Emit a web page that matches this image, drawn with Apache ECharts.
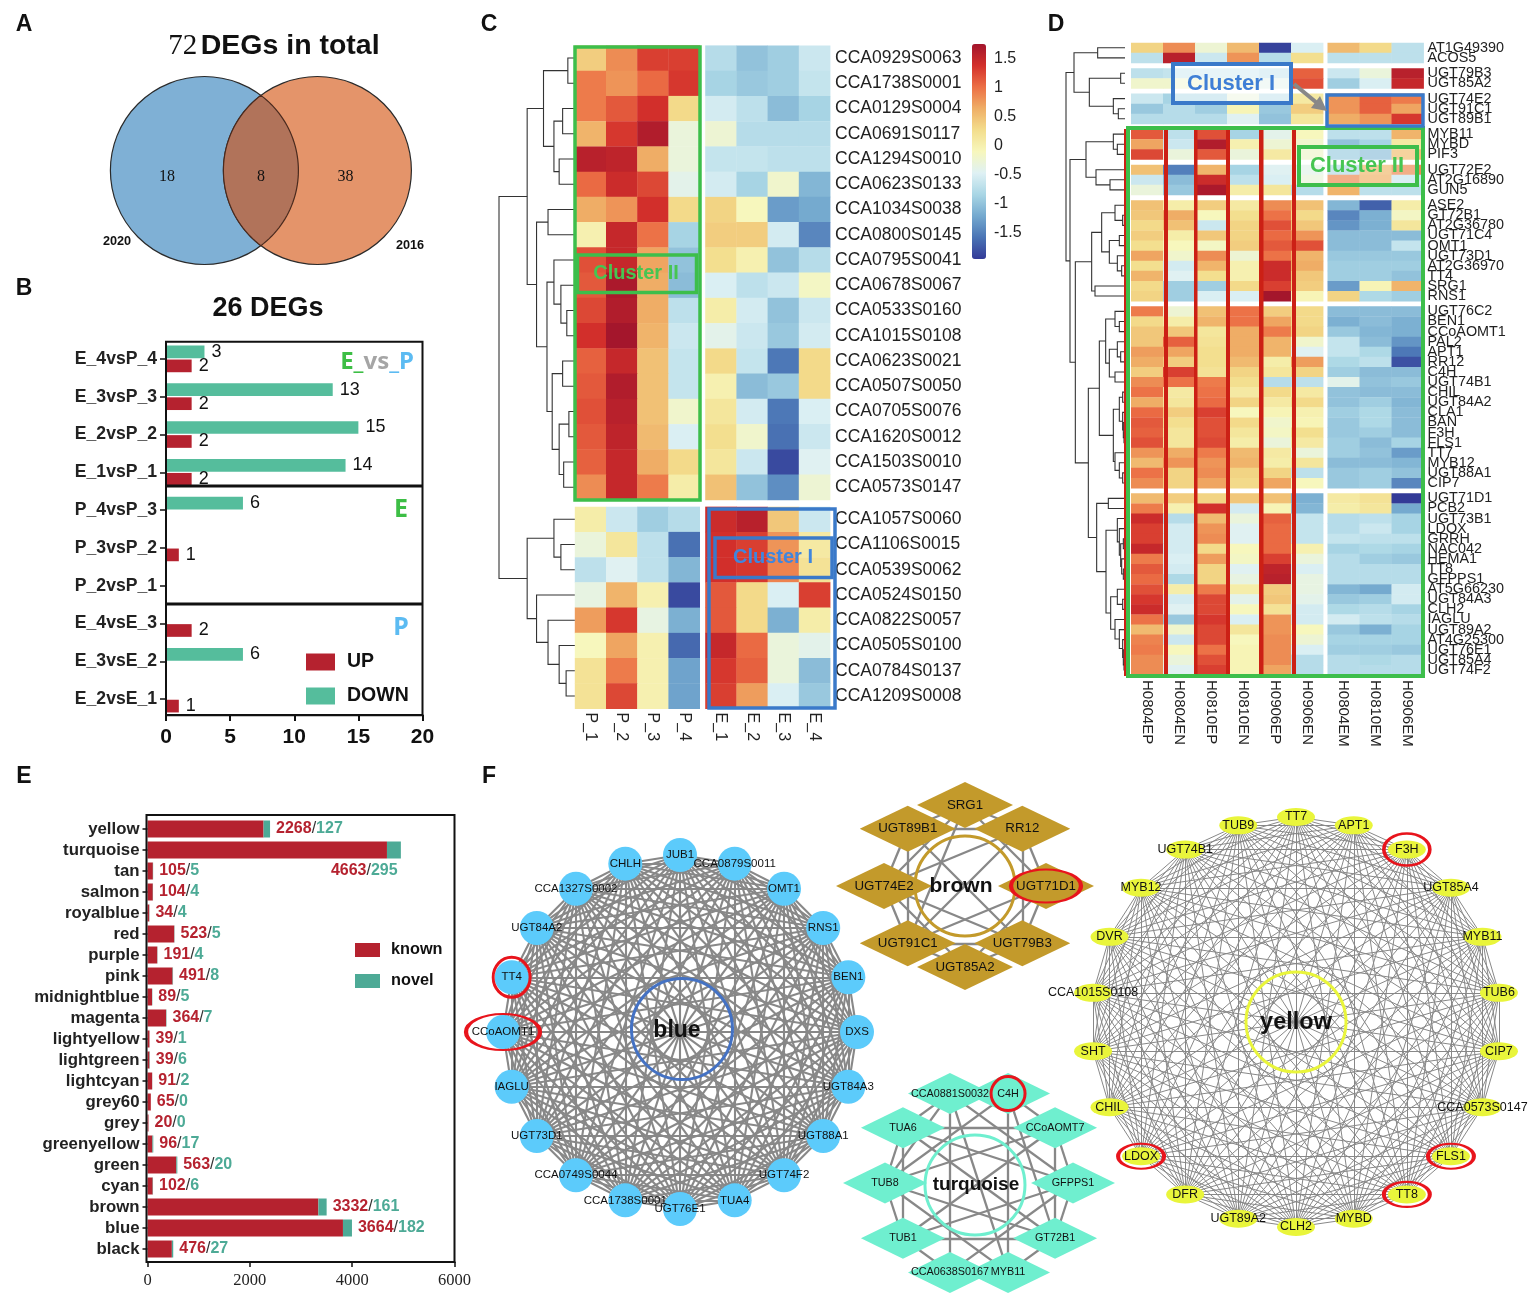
<!DOCTYPE html>
<html><head><meta charset="utf-8">
<script src="https://cdn.jsdelivr.net/npm/echarts@6/dist/echarts.min.js"></script>
<style>html,body{margin:0;padding:0;background:#fff}#c{width:1535px;height:1299px}</style></head>
<body><div id="c"></div>
<script>
// ---------- DATA ----------
const vennCounts = [18, 8, 38];
const vennYears = ['2020', '2016'];

const degCats = ['E_4vsP_4','E_3vsP_3','E_2vsP_2','E_1vsP_1','P_4vsP_3','P_3vsP_2','P_2vsP_1','E_4vsE_3','E_3vsE_2','E_2vsE_1'];
const degDown = [3,13,15,14,6,0,0,0,6,0];
const degUp   = [2,2,2,2,0,1,0,2,0,1];

const modCats = ['yellow','turquoise','tan','salmon','royalblue','red','purple','pink','midnightblue','magenta','lightyellow','lightgreen','lightcyan','grey60','grey','greenyellow','green','cyan','brown','blue','black'];
const modKnown = [2268,4663,105,104,34,523,191,491,89,364,39,39,91,65,20,96,563,102,3332,3664,476];
const modNovel = [127,295,5,4,4,5,4,8,5,7,1,6,2,0,0,17,20,6,161,182,27];
// bar lengths as drawn in the picture (a few differ from the printed numbers)
const modKnownBar = [2268,4680,105,104,34,523,191,491,89,364,39,39,91,65,20,96,563,102,3340,3820,476];
const modNovelBar = [127,272,5,4,4,5,4,8,5,7,1,6,2,0,0,17,20,6,161,176,27];

const cCols = ['P_1','P_2','P_3','P_4','E_1','E_2','E_3','E_4'];
const cRows = ['CCA0929S0063','CCA1738S0001','CCA0129S0004','CCA0691S0117','CCA1294S0010','CCA0623S0133','CCA1034S0038','CCA0800S0145','CCA0795S0041','CCA0678S0067','CCA0533S0160','CCA1015S0108','CCA0623S0021','CCA0507S0050','CCA0705S0076','CCA1620S0012','CCA1503S0010','CCA0573S0147','CCA1057S0060','CCA1106S0015','CCA0539S0062','CCA0524S0150','CCA0822S0057','CCA0505S0100','CCA0784S0137','CCA1209S0008'];
const cVals = [
[0.4,0.85,1.3,1.3,-0.75,-1.0,-0.9,-0.6],
[0.95,0.8,1.05,1.35,-0.85,-0.95,-0.9,-0.65],
[0.95,1.15,1.4,0.3,-0.55,-0.7,-1.05,-0.85],
[0.6,1.35,1.65,-0.3,-0.25,-0.75,-0.75,-0.75],
[1.6,1.55,0.65,-0.3,-0.65,-0.65,-0.7,-0.7],
[1.05,1.45,1.25,-0.4,-0.55,-0.85,-0.2,-1.1],
[0.65,0.8,1.4,0.3,0.35,-0.1,-1.3,-1.2],
[0.0,1.5,1.0,-0.85,0.4,0.4,-0.55,-1.45],
[1.2,1.5,0.7,-1.0,0.25,0.0,-1.0,-0.75],
[1.15,1.7,0.65,-1.05,-0.5,-0.7,-0.6,-0.15],
[1.25,1.65,0.65,-0.7,0.05,-0.55,-1.0,-0.6],
[1.4,1.75,0.6,-0.6,-0.4,-0.6,-0.95,-0.55],
[1.1,1.5,0.5,-0.65,0.3,-0.65,-1.55,0.3],
[1.15,1.65,0.5,-0.65,0.0,-1.05,-0.95,0.3],
[1.2,1.6,0.5,-0.2,0.15,-0.55,-1.55,-0.5],
[1.15,1.55,0.55,-0.5,0.25,-0.2,-1.6,-0.6],
[1.1,1.5,0.65,0.3,0.15,-0.6,-1.85,-0.45],
[0.85,1.5,0.95,0.05,0.5,-1.0,-1.4,-0.25],
[0.05,-0.6,-0.9,-0.75,1.45,1.6,0.45,-0.6],
[-0.3,0.15,-0.7,-1.6,1.4,1.3,0.8,0.1],
[-0.7,-0.45,-0.7,-1.1,1.4,1.35,0.9,0.2],
[-0.35,0.6,0.0,-1.85,1.15,0.3,-0.5,1.3],
[0.75,1.35,-0.35,-1.15,1.15,0.3,-1.15,0.05],
[-0.1,0.7,0.0,-1.65,1.5,1.05,-0.3,-0.4],
[0.2,0.95,0.0,-1.25,1.35,1.1,-0.3,-1.05],
[0.2,1.25,0.0,-1.25,1.3,0.75,-0.5,-0.95]];
const cBlocks = [18, 8];
const cTree = [27,
 [108,
  [155,[225,0,1],[185,[210,2,3],[200,4,5]]],
  [135,[168,6,7],[165,[185,8,[205,9,[222,10,11]]],[180,[210,12,13],[200,[228,14,15],[213,16,17]]]]]],
 [108,
  [185,18,[205,19,20]],
  [135,21,[168,22,[200,23,[220,24,25]]]]]];
const colorTicks = [1.5,1,0.5,0,-0.5,-1,-1.5];

const dCols = ['H0804EP','H0804EN','H0810EP','H0810EN','H0906EP','H0906EN','H0804EM','H0810EM','H0906EM'];
const dRows = ['AT1G49390','ACOS5','UGT79B3','UGT85A2','UGT74E2','UGT91C1','UGT89B1','MYB11','MYBD','PIF3','UGT72E2','AT2G16890','GUN5','ASE2','GT72B1','AT2G36780','UGT71C4','OMT1','UGT73D1','AT2G36970','TT4','SRG1','RNS1','UGT76C2','BEN1','CCoAOMT1','PAL2','APT1','RR12','C4H','UGT74B1','CHIL','UGT84A2','CLA1','BAN','F3H','FLS1','TT7','MYB12','UGT88A1','CIP7','UGT71D1','PCB2','UGT73B1','LDOX','GRRH','NAC042','HEMA1','TT8','GFPPS1','AT5G66230','UGT84A3','CLH2','IAGLU','UGT89A2','AT4G25300','UGT76E1','UGT85A4','UGT74F2'];
const dVals = [
[0.35,0.85,-0.25,0.55,-1.9,-0.5,0.55,0.3,-0.7],
[-0.7,1.6,-0.6,0.8,-0.75,0.25,-0.7,-0.7,-0.7],
[-0.7,-0.65,-0.6,-0.6,-0.7,1.1,-0.6,-0.3,1.6],
[-0.2,-0.2,-0.2,-0.3,-0.4,1.2,-0.9,-0.5,1.5],
[-0.6,-0.85,-0.85,-0.3,-0.75,0.1,0.8,1.1,0.95],
[-0.95,-0.75,-0.9,-0.05,-0.95,0.4,0.8,1.1,0.7],
[-0.75,-0.75,-0.75,-0.45,-1.0,0.15,0.65,0.8,1.35],
[1.15,-0.7,1.2,-0.85,-0.4,-0.1,-0.7,-0.7,0.6],
[0.7,-0.6,1.65,0.0,-0.25,-0.2,-1.0,-0.85,0.1],
[1.25,-0.3,1.15,-0.3,0.1,-0.2,-0.9,-1.0,0.5],
[0.5,-1.5,0.6,-0.85,-0.45,-0.4,-0.75,0.55,0.85],
[-0.6,-1.05,1.45,-0.7,-0.5,-0.3,0.85,0.6,-0.6],
[-0.3,-0.95,1.7,0.05,0.15,-0.75,0.6,-0.7,-0.7],
[0.5,0.05,0.4,0.1,0.85,0.5,-1.1,-1.7,0.05],
[0.45,0.65,-0.1,0.25,1.0,0.3,-1.45,-1.15,-0.15],
[0.3,0.5,-0.6,0.35,1.2,0.45,-1.35,-1.15,0.15],
[0.4,0.05,0.45,0.35,1.05,0.8,-1.05,-1.05,-1.05],
[0.25,-0.1,-0.15,0.4,1.15,1.2,-1.05,-1.05,-0.65],
[0.7,-0.2,0.85,-0.25,1.0,0.6,-0.95,-0.95,-0.95],
[0.25,-0.55,0.6,0.0,1.45,0.65,-0.9,-0.9,-0.9],
[0.6,-0.45,0.25,0.0,1.45,0.45,-0.9,-0.9,-1.0],
[0.3,-0.9,-0.9,0.3,1.3,0.4,-1.3,-0.05,0.6],
[0.35,-0.9,-0.5,-0.5,1.75,-0.05,0.35,-0.8,-0.9],
[0.95,-0.25,0.5,1.0,0.4,0.3,-1.05,-1.05,-1.05],
[0.3,0.05,0.6,1.0,0.7,0.3,-1.15,-1.05,-1.15],
[0.45,0.45,0.15,0.65,0.95,0.35,-0.95,-1.1,-1.15],
[0.45,1.1,0.2,0.65,0.6,-0.2,-0.65,-1.05,-1.35],
[0.75,0.7,0.25,0.65,0.6,-0.45,-0.65,-0.8,-1.55],
[0.65,0.4,0.25,0.55,0.05,0.75,-0.8,-0.7,-1.8],
[0.4,1.3,0.2,0.35,0.15,0.35,-0.9,-1.05,-1.05],
[0.85,1.0,0.95,0.25,-0.75,-0.7,-0.4,-1.0,-0.95],
[1.0,0.1,1.0,0.1,0.3,0.1,-1.0,-1.05,-1.05],
[0.65,0.15,1.05,0.35,0.1,0.3,-1.0,-0.9,-1.1],
[1.05,0.4,1.3,-0.1,-0.05,0.0,-0.9,-0.8,-1.05],
[1.15,0.25,1.2,0.3,-0.2,-0.05,-0.95,-0.8,-1.05],
[1.1,0.15,1.2,0.15,-0.15,0.25,-0.95,-0.9,-1.05],
[1.2,0.15,1.25,0.05,-0.3,0.1,-0.9,-1.05,-0.85],
[0.8,0.65,0.95,0.55,0.1,-0.3,-0.9,-1.0,-1.3],
[0.55,0.8,0.8,0.6,0.05,0.15,-1.05,-1.05,-1.1],
[1.0,0.35,0.85,0.35,0.35,-0.7,-0.95,-0.9,-1.0],
[0.85,0.35,0.7,0.3,0.7,-0.1,-0.95,-0.9,-1.45],
[0.55,0.4,0.35,0.45,0.5,-1.15,0.1,0.2,-1.95],
[0.95,0.0,1.4,-0.55,-0.05,-1.1,0.05,0.15,-1.2],
[1.45,-0.75,0.55,-0.3,1.1,-0.65,-0.75,-0.7,-0.85],
[1.3,-0.55,0.8,-0.45,1.05,-0.65,-0.75,-0.6,-0.85],
[1.3,-0.55,0.85,-0.45,1.05,-0.65,-0.65,-0.7,-0.7],
[1.5,-0.55,0.3,-0.1,1.05,0.0,-0.85,-0.8,-0.85],
[0.95,-0.5,0.75,-0.15,1.3,-0.3,-0.75,-0.9,-0.95],
[1.15,-0.55,0.35,-0.45,1.55,-0.5,-0.75,-0.75,-0.75],
[1.05,-0.8,0.35,-0.35,1.6,-0.35,-0.75,-0.75,-0.75],
[1.2,0.05,0.95,0.05,0.4,-0.35,-1.1,-1.2,-0.55],
[1.35,-0.55,1.25,-0.4,0.45,-0.4,-0.95,-0.9,-0.55],
[1.45,-0.45,1.25,-0.1,0.2,-0.55,-0.8,-0.75,-0.85],
[1.0,-0.95,1.35,-0.5,0.8,-0.55,-0.55,-0.7,-0.75],
[0.55,-0.2,1.25,0.15,0.8,-0.1,-0.95,-1.15,-0.85],
[0.9,-0.6,1.25,-0.1,0.85,-0.25,-0.85,-0.85,-0.85],
[0.95,-0.1,1.0,-0.05,0.85,-0.5,-0.9,-0.9,-0.95],
[0.85,-0.3,1.2,-0.05,0.85,-0.75,-0.75,-0.8,-0.75],
[0.85,-0.45,1.3,-0.05,0.7,-0.75,-0.75,-0.75,-0.75]];
const dBlocks = [2,2,3,3,3,10,18,18];
const dTree = [18,
 [42,[113,0,1],[88,[182,2,3],[160,4,[175,5,6]]]],
 [30,
  [78,[160,7,[172,8,9]],[108,10,[150,11,12]]],
  [46,
   [95,[125,[165,13,[188,14,15]],[148,[178,16,17],[172,18,[185,19,20]]]],[105,21,22]],
   [85,
    [118,[137,[165,23,[178,24,25]],[148,[172,26,[182,27,28]],[165,29,30]]],[160,[178,[188,31,32],[188,33,[190,34,[192,35,36]]]],[165,37,[178,38,[188,39,40]]]]],
    [110,[145,41,42],[138,[172,43,[178,44,[182,[190,45,46],[185,47,[190,48,49]]]]],[152,[172,50,[188,51,52]],[165,53,[178,54,[188,55,[190,56,[192,57,58]]]]]]]]]]]];

const blueNames = ['JUB1','CCA0879S0011','OMT1','RNS1','BEN1','DXS','UGT84A3','UGT88A1','UGT74F2','TUA4','UGT76E1','CCA1738S0001','CCA0749S0044','UGT73D1','IAGLU','CCoAOMT1','TT4','UGT84A2','CCA1327S0002','CHLH'];
const brownNames = ['SRG1','RR12','UGT71D1','UGT79B3','UGT85A2','UGT91C1','UGT74E2','UGT89B1'];
const brownEdges = [[0,1],[1,2],[2,3],[3,4],[4,5],[5,6],[6,7],[7,0],[7,1],[5,3],[7,5],[1,3],[0,2],[0,6],[4,6],[4,2],[0,5],[1,6],[7,3],[1,5],[6,3],[2,5]];
const turqNames = ['C4H','CCoAOMT7','GFPPS1','GT72B1','MYB11','CCA0638S0167','TUB1','TUB8','TUA6','CCA0881S0032'];
const turqEdges = [[0,1],[1,2],[2,3],[3,4],[4,5],[5,6],[6,7],[7,8],[8,9],[9,0],[8,1],[6,3],[8,6],[1,3],[9,7],[9,2],[0,7],[0,4],[0,3],[1,7],[8,2],[8,3],[7,3],[6,2],[9,5],[2,5],[1,6],[9,4],[7,4]];
const yellowNames = ['TT7','APT1','F3H','UGT85A4','MYB11','TUB6','CIP7','CCA0573S0147','FLS1','TT8','MYBD','CLH2','UGT89A2','DFR','LDOX','CHIL','SHT','CCA1015S0108','DVR','MYB12','UGT74B1','TUB9'];
const blueMarked = ['TT4','CCoAOMT1'];
const brownMarked = ['UGT71D1'];
const turqMarked = ['C4H'];
const yellowMarked = ['F3H','LDOX','FLS1','TT8'];

// ---------- LAYOUT / STYLE ----------
const SANS = '"Liberation Sans", Arial, sans-serif';
const SERIF = '"Liberation Serif", "Times New Roman", serif';
const RED = '#B5222F', TEAL = '#4DAA96';
const grids = [], xAxes = [], yAxes = [], series = [], polars = [], radii = [], angles = [], graphics = [];

function hiddenAxis(min, max, inverse){ return {type:'value', show:false, min, max, inverse:!!inverse, splitLine:{show:false}, scale:true}; }
function addGrid(g, x, y){ grids.push(Object.assign({containLabel:false}, g)); const i = grids.length-1; xAxes.push(Object.assign({gridIndex:i}, x)); yAxes.push(Object.assign({gridIndex:i}, y)); return i; }

function text(x,y,s,font,extra){ graphics.push({type:'text', z:100, x, y:y+1.5, style:Object.assign({text:s, font, fill:'#111', textAlign:'center', textVerticalAlign:'middle'}, extra||{})}); }
function rect(x,y,w,h,stroke,lw,fill){ graphics.push({type:'rect', z:90, shape:{x,y,width:w,height:h}, style:{fill:fill||'transparent', stroke, lineWidth:lw}}); }
function bar(x,y,w,h,fill){ graphics.push({type:'rect', z:90, shape:{x,y,width:w,height:h}, style:{fill}}); }

// ---- Panel letters ----
[['A',24,23],['B',24,287],['C',489,23],['D',1056,23],['E',24,775],['F',489,775]].forEach(p=>text(p[1],p[2],p[0],'bold 23px '+SANS));

// ---- Panel A : Venn ----
const vennSets = [[204.4,170.5,94,'#7FB0D5'],[317.4,170.5,94,'#E4946A']];
const vg = addGrid({left:100,top:60,width:325,height:215}, hiddenAxis(100,425), hiddenAxis(60,275,true));
series.push({type:'custom', xAxisIndex:vg, yAxisIndex:vg, silent:true, clip:false, encode:{x:0,y:1}, data:vennSets.map(s=>[s[0],s[1],s[2]]),
  renderItem:(p,api)=>{ const c=api.coord([api.value(0),api.value(1)]); const r=api.size([api.value(2),0])[0]; return {type:'circle', shape:{cx:c[0],cy:c[1],r}, style:{fill:vennSets[p.dataIndex][3],stroke:'#2A2A2A',lineWidth:1.2}}; }});
series.push({type:'custom', xAxisIndex:vg, yAxisIndex:vg, silent:true, clip:false, z:3, encode:{x:0,y:1}, data:[[ (vennSets[0][0]+vennSets[1][0])/2, vennSets[0][1] ]],
  renderItem:(p,api)=>{ const [a,b]=vennSets; const r=a[2]; const half=(b[0]-a[0])/2; const t=Math.acos(half/r); const pts=[];
    for(let i=0;i<=48;i++){const q=-t+2*t*i/48; pts.push(api.coord([a[0]+r*Math.cos(q),a[1]+r*Math.sin(q)]));}
    for(let i=0;i<=48;i++){const q=Math.PI-t+2*t*i/48; pts.push(api.coord([b[0]+r*Math.cos(q),b[1]+r*Math.sin(q)]));}
    return {type:'polygon', shape:{points:pts}, style:{fill:'#B1735A',stroke:'#4A2A1E',lineWidth:1.2}}; }});
graphics.push({type:'text', z:100, x:274, y:46, style:{text:'{a|72} {b|DEGs in total}', textAlign:'center', textVerticalAlign:'middle', rich:{a:{font:'29px '+SERIF, fill:'#111'}, b:{font:'bold 28.5px '+SANS, fill:'#111'}}}});
text(167,175.5,String(vennCounts[0]),'16px '+SERIF); text(261,175.5,String(vennCounts[1]),'16px '+SERIF); text(345.5,175.5,String(vennCounts[2]),'16px '+SERIF);
text(117,240,vennYears[0],'bold 12.7px '+SANS); text(410,244,vennYears[1],'bold 12.7px '+SANS);

// ---- Panel B ----
text(268,307,'26 DEGs','bold 27px '+SANS);
const bg = addGrid({left:166,top:340,width:256.5,height:378},
 {type:'value',min:0,max:20,interval:5,offset:-3,axisLine:{show:true,lineStyle:{color:'#111',width:2}},axisTick:{show:true,length:6,lineStyle:{color:'#111',width:2}},splitLine:{show:false},axisLabel:{color:'#111',fontFamily:SANS,fontSize:21,fontWeight:'bold',margin:12}},
 {type:'category',inverse:true,data:degCats,axisLine:{show:false},axisTick:{show:true,alignWithLabel:true,length:6,lineStyle:{color:'#111',width:1.5}},axisLabel:{interval:0,color:'#222',fontFamily:SANS,fontSize:17.6,fontWeight:'bold',margin:9,padding:[2,0,0,0]}});
const bLbl = {show:true,position:'right',distance:7,color:'#111',fontFamily:SANS,fontSize:18,formatter:p=>p.value?String(p.value):''};
series.push({name:'DOWN',type:'bar',xAxisIndex:bg,yAxisIndex:bg,data:degDown,barWidth:12.7,barGap:'10%',barMinHeight:1,itemStyle:{color:'#55BD9C'},label:bLbl,silent:true});
series.push({name:'UP',type:'bar',xAxisIndex:bg,yAxisIndex:bg,data:degUp,barWidth:12.7,barGap:'10%',barMinHeight:1,itemStyle:{color:RED},label:bLbl,silent:true});
rect(166,341.7,256.5,373.5,'#111',2);
bar(166,484.6,257,3,'#111'); bar(166,602.6,257,3,'#111');
graphics.push({type:'text',z:100,x:414,y:362,style:{text:'{g|E_}{s|vs}{b|_P}',textAlign:'right',textVerticalAlign:'middle',rich:{g:{font:'bold 24px "Noto Sans"',fill:'#3DBE45'},s:{font:'bold 24px "Noto Sans"',fill:'#A5A5A5'},b:{font:'bold 24px "Noto Sans"',fill:'#5CBBF2'}}}});
text(401,508,'E','bold 25px "Noto Sans"',{fill:'#3DBE45'});
text(401,626,'P','bold 25px "Noto Sans"',{fill:'#5CBBF2'});

// ---- Panel E ----
const eg = addGrid({left:147.5,top:818.5,width:307,height:441},
 {type:'value',min:0,max:6000,interval:2000,offset:2.5,axisLine:{show:true,lineStyle:{color:'#111',width:2}},axisTick:{show:true,length:5,lineStyle:{color:'#111',width:1.5}},splitLine:{show:false},axisLabel:{color:'#222',fontFamily:SERIF,fontSize:16.5,margin:10,formatter:v=>String(v)}},
 {type:'category',inverse:true,data:modCats,axisLine:{show:false},axisTick:{show:true,alignWithLabel:true,length:5,lineStyle:{color:'#111',width:1.5}},axisLabel:{interval:0,color:'#222',fontFamily:SANS,fontSize:16.8,fontWeight:'bold',margin:8,padding:[2,0,0,0]}});
series.push({name:'known',type:'bar',stack:'m',xAxisIndex:eg,yAxisIndex:eg,data:modKnownBar,barWidth:17,itemStyle:{color:RED},silent:true});
series.push({name:'novel',type:'bar',stack:'m',xAxisIndex:eg,yAxisIndex:eg,barWidth:17,itemStyle:{color:TEAL},silent:true,
 data:modNovelBar.map((v,i)=>({value:v,label: modCats[i]==='turquoise'?{offset:[-76,21]}:{}})),
 label:{show:true,position:'right',distance:6,formatter:p=>'{k|'+modKnown[p.dataIndex]+'}{s|/}{n|'+modNovel[p.dataIndex]+'}',
  rich:{k:{color:RED,fontFamily:SANS,fontSize:16,fontWeight:'bold'},s:{color:'#333',fontFamily:SANS,fontSize:16},n:{color:TEAL,fontFamily:SANS,fontSize:16,fontWeight:'bold'}}}});
rect(146.5,815,308,447,'#111',2);

// ---- Heatmaps ----
const RB = ['#333A97','#4A74B5','#74A9CF','#A9D6E5','#DFF1F4','#F7F7BC','#F3DD8C','#EFAE66','#EC6F45','#D3302B','#A3152C'];
const VMIN=-1.95, VMAX=1.76;
const visualMaps = [];
function rowPositions(blocks, gap){ const out=[]; let y=0; blocks.forEach(n=>{for(let i=0;i<n;i++){out.push(y); y+=1;} y+=gap;}); return out; }
function heat(opt){
  const rowPos = rowPositions(opt.blocks, opt.rowGap);
  const colPos = rowPositions(opt.colBlocks, opt.colGap);
  const H = rowPos[rowPos.length-1]+1, W = colPos[colPos.length-1]+1;
  const yMap = new Map(rowPos.map((p,i)=>[(p+0.5).toFixed(3),opt.rows[i]]));
  const xMap = new Map(colPos.map((p,i)=>[(p+0.5).toFixed(3),opt.cols[i]]));
  const g = addGrid({left:opt.left,top:opt.top,width:opt.width,height:opt.height},
   {type:'value',min:0,max:W,position:'bottom',axisLine:{show:false},axisTick:{show:false},splitLine:{show:false},
    axisLabel:{customValues:colPos.map(p=>p+0.5),formatter:v=>xMap.get((+v).toFixed(3))||'',rotate:-90,color:'#222',fontFamily:SANS,fontSize:opt.colFont,margin:opt.colMargin,hideOverlap:false,showMinLabel:true,showMaxLabel:true,padding:[opt.colShift,0,0,0]}},
   {type:'value',min:0,max:H,inverse:true,position:'right',axisLine:{show:false},axisTick:{show:false},splitLine:{show:false},
    axisLabel:{customValues:[0].concat(rowPos.map(p=>p+0.5),[H]),formatter:v=>yMap.get((+v).toFixed(3))||'',color:'#222',fontFamily:SANS,fontSize:opt.rowFont,margin:opt.rowMargin,hideOverlap:false,showMinLabel:false,showMaxLabel:false,padding:[2,0,0,0]}});
  const cells=[]; opt.vals.forEach((r,i)=>r.forEach((v,j)=>cells.push([colPos[j],rowPos[i],v])));
  series.push({type:'custom',xAxisIndex:g,yAxisIndex:g,silent:true,encode:{x:0,y:1},dimensions:['c','r','v'],data:cells,clip:false,
    renderItem:(p,api)=>{const a=api.coord([api.value(0),api.value(1)]),b=api.coord([api.value(0)+1,api.value(1)+1]);
      return {type:'rect',shape:{x:a[0],y:a[1],width:b[0]-a[0]+0.4,height:b[1]-a[1]+0.4},style:{fill:api.visual('color')}};}});
  const si = series.length-1;
  const dg = addGrid({left:opt.treeLeft,top:opt.top,width:opt.left-opt.treeLeft-opt.treeGap,height:opt.height}, hiddenAxis(opt.treeMin,opt.treeMax), hiddenAxis(0,H,true));
  const segs=[];
  (function walk(n){ if(typeof n==='number') return {y:rowPos[n]+0.5,h:opt.treeMax};
    const A=walk(n[1]),B=walk(n[2]); segs.push({coords:[[A.h,A.y],[n[0],A.y],[n[0],B.y],[B.h,B.y]]}); return {y:(A.y+B.y)/2,h:n[0]}; })(opt.tree);
  series.push({type:'lines',coordinateSystem:'cartesian2d',xAxisIndex:dg,yAxisIndex:dg,polyline:true,silent:true,data:segs,lineStyle:{color:'#333',width:1.1,opacity:1}});
  return si;
}
const cSi = heat({rows:cRows,cols:cCols,vals:cVals,blocks:cBlocks,colBlocks:[4,4],rowGap:0.27,colGap:0.18,left:574.8,top:45.4,width:255.2,height:663.2,
  colFont:16,colMargin:4,colShift:8,rowFont:17.5,rowMargin:5,tree:cTree,treeLeft:499,treeGap:0,treeMin:27,treeMax:245});
const dSi = heat({rows:dRows,cols:dCols,vals:dVals,blocks:dBlocks,colBlocks:[6,3],rowGap:0.52,colGap:0.14,left:1131,top:42.7,width:292.5,height:632.3,
  colFont:15,colMargin:5,colShift:6,rowFont:14.4,rowMargin:4,tree:dTree,treeLeft:1066,treeGap:6,treeMin:18,treeMax:195});
visualMaps.push({type:'continuous',seriesIndex:[cSi,dSi],dimension:2,min:VMIN,max:VMAX,inRange:{color:RB},calculable:false,left:972,top:44,itemWidth:14,itemHeight:215,text:['',''],textGap:0,padding:0,show:true,hoverLink:false});
const cb = addGrid({left:986,top:44,width:1,height:215}, {type:'value',show:false,min:0,max:1},
 {type:'value',min:VMIN,max:VMAX,position:'left',axisLine:{show:false},axisTick:{show:false},splitLine:{show:false},
  axisLabel:{customValues:colorTicks,inside:false,color:'#222',fontFamily:SANS,fontSize:16,align:'left',margin:-8,formatter:v=>String(v),hideOverlap:false,showMinLabel:true,showMaxLabel:true,padding:[3,0,0,0]}});

// ---- Overlays on C ----
rect(575,47,125,453,'#3DBE4B',3.5);
rect(577.5,255,119,37.5,'#3DBE4B',3.5);
text(636,272,'Cluster II','bold 20px '+SANS,{fill:'#46C552'});
rect(709,509,126,199,'#3A79C9',3.5);
rect(715,538,117,39.5,'#3A79C9',3.5);
text(773,556,'Cluster I','bold 20px '+SANS,{fill:'#3F86DE'});

// ---- Overlays on D ----
[[1124,4],[1164,4],[1194,3.5],[1226,4],[1259,4.5],[1292,4]].forEach(b=>bar(b[0],129,b[1],547,'#CC2015'));
rect(1128,128,295,548,'#3DBE4B',4);
rect(1327,95,96,31,'#3A79C9',3.5);
rect(1173,64,118,39,'#3A79C9',4,'rgba(255,255,255,0.55)');
text(1231,82,'Cluster I','bold 22px '+SANS,{fill:'#3F7FD6'});
graphics.push({type:'line',z:91,shape:{x1:1294,y1:84,x2:1317,y2:103},style:{stroke:'#888',lineWidth:4}});
graphics.push({type:'polygon',z:91,shape:{points:[[1327,111],[1311,108],[1320,96]]},style:{fill:'#888'}});
rect(1299,147,118,38,'#3DBE4B',4,'rgba(255,255,255,0.3)');
text(1357,164,'Cluster II','bold 22px '+SANS,{fill:'#46C552'});

// ---- Networks ----
function net(o){
  polars.push({center:o.center,radius:o.radius});
  const pi = polars.length-1;
  radii.push({polarIndex:pi,type:'value',min:0,max:1,show:false,splitLine:{show:false}});
  angles.push({polarIndex:pi,type:'value',min:0,max:360,startAngle:90,clockwise:true,show:false,splitLine:{show:false}});
  const n=o.names.length, angleOf=i=>o.start+i*360/n;
  const nodes=o.names.map((name,i)=>({name,value:[1,angleOf(i)]}));
  nodes.push({name:o.title,value:o.ringAt,symbol:'circle',symbolSize:o.ringSize,itemStyle:{color:'rgba(255,255,255,0)',borderColor:o.ringColor,borderWidth:3},label:{fontSize:o.titleFont,fontWeight:'bold',color:'#111',offset:o.titleOffset}});
  let links=[];
  if(o.edges) links=o.edges.map(e=>({source:e[0],target:e[1]}));
  else for(let i=0;i<n;i++) for(let j=i+1;j<n;j++) links.push({source:i,target:j});
  series.push({type:'graph',coordinateSystem:'polar',polarIndex:pi,layout:'none',roam:false,silent:true,z:4,data:nodes,links,symbol:o.symbol,symbolSize:o.size,edgeSymbol:['none','none'],
    itemStyle:{color:o.color},lineStyle:{color:'#888',width:o.edgeWidth,opacity:1,curveness:0},
    label:{show:true,position:'inside',color:'#111',fontFamily:SANS,fontSize:o.font,formatter:'{b}'},emphasis:{disabled:true}});
  series.push({type:'scatter',coordinateSystem:'polar',polarIndex:pi,silent:true,z:6,symbol:'circle',
    data:o.marked.map(m=>({name:m,value:[1,angleOf(o.names.indexOf(m))],symbolSize:o.markSize[m]})),
    itemStyle:{color:'rgba(0,0,0,0)',borderColor:'#E8141C',borderWidth:3,opacity:1}});
}
net({names:blueNames,start:0,center:[680,1032],radius:177,symbol:'circle',size:34,color:'#5CCBFB',font:11.5,edgeWidth:2.1,title:'blue',ringAt:[0.02,34],titleFont:23,titleOffset:[-5,2],ringSize:101,ringColor:'#4472C4',marked:blueMarked,markSize:{'TT4':[37,40],'CCoAOMT1':[74,36]}});
net({names:brownNames,edges:brownEdges,start:0,center:[965,886],radius:81,symbol:'diamond',size:[96,46],color:'#C39A2B',font:13.3,edgeWidth:2.3,title:'brown',ringAt:[0,0],titleFont:21,titleOffset:[-4,0],ringSize:100,ringColor:'#C39A2B',marked:brownMarked,markSize:{'UGT71D1':[70,33]}});
net({names:turqNames,edges:turqEdges,start:18,center:[979,1183],radius:94,symbol:'diamond',size:[84,41],color:'#6FEFCF',font:10.8,edgeWidth:2.3,title:'turquoise',ringAt:[0.048,243],titleFont:19,titleOffset:[1,0],ringSize:100,ringColor:'#6FEFCF',marked:turqMarked,markSize:{'C4H':[34,34]}});
net({names:yellowNames,start:0,center:[1296,1022],radius:205,symbol:'circle',size:[38,18],color:'#E9F53B',font:12.5,edgeWidth:1,title:'yellow',ringAt:[0,0],titleFont:23.5,titleOffset:[0,1],ringSize:100,ringColor:'#E9F53B',marked:yellowMarked,markSize:{'F3H':[46,32],'LDOX':[46,25],'FLS1':[46,25],'TT8':[46,25]}});

const chart = echarts.init(document.getElementById('c'),null,{renderer:'canvas',width:1535,height:1299});
chart.setOption({
  animation:false, backgroundColor:'#fff', tooltip:{show:false},
  grid:grids, xAxis:xAxes, yAxis:yAxes,
  polar:polars, radiusAxis:radii, angleAxis:angles,
  visualMap:visualMaps,
  legend:[
   {data:['UP','DOWN'],left:306,top:652,orient:'vertical',icon:'rect',itemWidth:29,itemHeight:17,itemGap:14,padding:0,selectedMode:false,textStyle:{color:'#111',fontFamily:SANS,fontSize:19.5,fontWeight:'bold',padding:[0,0,0,7]},itemStyle:{borderWidth:0}},
   {data:['known','novel'],left:355,top:942,orient:'vertical',icon:'rect',itemWidth:25,itemHeight:14,itemGap:15,padding:0,selectedMode:false,textStyle:{color:'#111',fontFamily:SANS,fontSize:16.3,fontWeight:'bold',padding:[0,0,0,6]},itemStyle:{borderWidth:0}}
  ],
  series, graphic:{elements:graphics}
});
</script></body></html>
